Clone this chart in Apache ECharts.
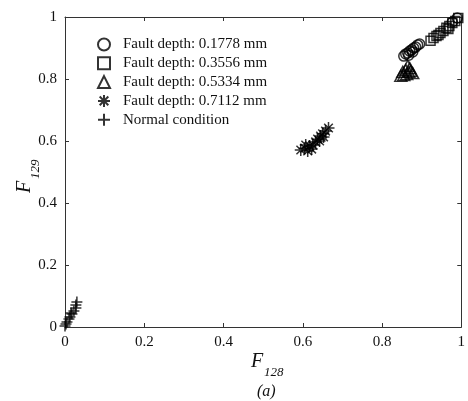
<!DOCTYPE html>
<html><head><meta charset="utf-8">
<script src="https://cdn.jsdelivr.net/npm/echarts@6/dist/echarts.min.js"></script>
<style>html,body{margin:0;padding:0;background:#fff}#c{width:468px;height:401px}</style>
</head><body><div id="c"></div>
<script>
const seriesNames = ['Fault depth: 0.1778 mm','Fault depth: 0.3556 mm','Fault depth: 0.5334 mm','Fault depth: 0.7112 mm','Normal condition'];
const xTicks = [0,0.2,0.4,0.6,0.8,1];
const yTicks = [0,0.2,0.4,0.6,0.8,1];
const depth1778 = [[0.855,0.874],[0.86,0.881],[0.865,0.884],[0.87,0.89],[0.875,0.894],[0.88,0.9],[0.885,0.903],[0.89,0.91],[0.895,0.913],[0.8675,0.877],[0.8775,0.887],[0.9775,0.984],[0.99,0.997]];
const depth3556 = [[0.9225,0.923],[0.93,0.932],[0.9375,0.939],[0.9475,0.948],[0.955,0.955],[0.9625,0.965],[0.97,0.971],[0.9775,0.981],[0.985,0.987],[0.9925,0.997],[0.9425,0.942],[0.9675,0.961]];
const depth5334 = [[0.8475,0.81],[0.855,0.813],[0.8625,0.816],[0.8675,0.823],[0.8725,0.826],[0.8775,0.819],[0.86,0.829],[0.8525,0.823],[0.87,0.835],[0.865,0.842]];
const depth7112 = [[0.595,0.571],[0.605,0.577],[0.6125,0.568],[0.6175,0.584],[0.625,0.587],[0.6325,0.597],[0.6375,0.606],[0.645,0.616],[0.65,0.623],[0.6575,0.632],[0.665,0.642],[0.6075,0.587],[0.6225,0.574],[0.6425,0.6],[0.6525,0.613]];
const normal = [[0.03,0.081],[0.0275,0.071],[0.0275,0.061],[0.0225,0.052],[0.0175,0.042],[0.0125,0.032],[0.01,0.026],[0.005,0.016],[0.0025,0.01],[0,0.003],[0.015,0.045]];

const FONT = '"Liberation Serif","DejaVu Serif",serif';
const STAR = 'path://M0,-1L0,1M-1,0L1,0M-0.72,-0.72L0.72,0.72M-0.72,0.72L0.72,-0.72';
const PLUS = 'path://M0,-1L0,1M-1,0L1,0';
const hollow = {color:'rgba(0,0,0,0)', borderColor:'#000', borderWidth:1.5};
const axisCommon = {type:'value', min:0, max:1, interval:0.2,
  axisLine:{show:true, onZero:false, lineStyle:{color:'#333', width:1}},
  axisTick:{show:true, inside:true, length:4, lineStyle:{color:'#333'}},
  splitLine:{show:false}};
const chart = echarts.init(document.getElementById('c'), null, {renderer:'canvas'});
chart.setOption({
  animation:false,
  backgroundColor:'#fff',
  grid:{left:65, top:17, width:400, height:310, containLabel:false},
  xAxis:[
    Object.assign({}, axisCommon, {position:'bottom', axisLabel:{show:true, fontFamily:FONT, fontSize:15, color:'#111', margin:8}}),
    Object.assign({}, axisCommon, {position:'top', axisLabel:{show:false}})
  ],
  yAxis:[
    Object.assign({}, axisCommon, {position:'left', axisLabel:{show:true, fontFamily:FONT, fontSize:15, color:'#111', margin:8}}),
    Object.assign({}, axisCommon, {position:'right', axisLabel:{show:false}})
  ],
  legend:{orient:'vertical', left:97, top:37, padding:0, itemGap:3.8, itemWidth:12, itemHeight:12,
    textStyle:{fontFamily:FONT, fontSize:15, lineHeight:15, color:'#111', padding:[0,0,0,8]},
    data:seriesNames},
  series:[
    {name:seriesNames[0], type:'scatter', data:depth1778, symbol:'circle', symbolSize:10, itemStyle:hollow},
    {name:seriesNames[1], type:'scatter', data:depth3556, symbol:'rect', symbolSize:9, itemStyle:hollow},
    {name:seriesNames[2], type:'scatter', data:depth5334, symbol:'triangle', symbolSize:[12,11], itemStyle:hollow},
    {name:seriesNames[3], type:'scatter', data:depth7112, symbol:STAR, symbolSize:12, itemStyle:hollow},
    {name:seriesNames[4], type:'scatter', data:normal, symbol:PLUS, symbolSize:11, itemStyle:hollow}
  ],
  graphic:[
    {type:'text', left:251, top:352, style:{text:'F', font:'italic 20px '+FONT, fill:'#111'}},
    {type:'text', left:264, top:366, style:{text:'128', font:'italic 13px '+FONT, fill:'#111'}},
    {type:'text', left:257, top:384, style:{text:'(a)', font:'italic 16px '+FONT, fill:'#111'}},
    {type:'text', x:15, y:193, rotation:Math.PI/2, style:{text:'F', font:'italic 20px '+FONT, fill:'#111'}},
    {type:'text', x:29, y:179, rotation:Math.PI/2, style:{text:'129', font:'italic 13px '+FONT, fill:'#111'}}
  ]
});
</script></body></html>
